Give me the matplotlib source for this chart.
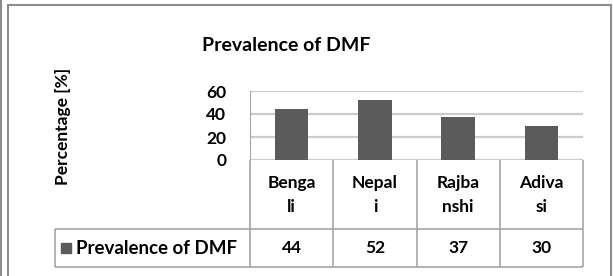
import matplotlib.pyplot as plt
from matplotlib.patches import Rectangle
from matplotlib.lines import Line2D

plt.rcParams['font.family'] = ['Lato', 'DejaVu Sans']

categories = ['Bengali', 'Nepali', 'Rajbanshi', 'Adivasi']
header_labels = ['Benga\nli', 'Nepal\ni', 'Rajba\nnshi', 'Adiva\nsi']
values = [44, 52, 37, 30]
series_name = 'Prevalence of DMF'
title = 'Prevalence of DMF'
ylabel = 'Percentage [%]'
yticks = [0, 20, 40, 60]

W, H = 613, 276
bar_color = '#5b5b5b'
line_color = '#a6a6a6'


def box(x0, y0, x1, y1):
    # pixel box (top-left origin) -> figure fraction rect
    return [x0 / W, 1 - y1 / H, (x1 - x0) / W, (y1 - y0) / H]


fig = plt.figure(figsize=(W / 100, H / 100), dpi=100)

# outer frame
fig.add_artist(Rectangle((8 / W, -0.05), 603 / W, 1.05 - 5 / H, transform=fig.transFigure,
                         fill=False, edgecolor='#8c8c8c', linewidth=1.5))
fig.add_artist(Line2D([1 / W, 1 / W], [0, 1], transform=fig.transFigure,
                      color='#8c8c8c', linewidth=1.5))

# chart
ax = fig.add_axes(box(250, 91, 583, 160))
x = list(range(len(categories)))
ax.bar(x, values, width=0.4, color=bar_color, zorder=3)
ax.set_xlim(-0.5, len(categories) - 0.5)
ax.set_ylim(0, 60)
ax.set_yticks(yticks)
ax.set_xticks([])
ax.grid(axis='y', color='#cccccc', linewidth=1.6, zorder=0)
for s in ['top', 'right', 'bottom']:
    ax.spines[s].set_visible(False)
ax.spines['left'].set_color(line_color)
ax.tick_params(axis='y', length=0, labelsize=12.5, pad=17)
for lab in ax.get_yticklabels():
    lab.set_fontweight('bold')

fig.text(286 / W, 1 - 45 / H, title, ha='center', va='center',
         fontsize=14, fontweight='bold')
fig.text(63 / W, 1 - 126 / H, ylabel, ha='center', va='center',
         rotation=90, fontsize=12.5, fontweight='bold')

# data table under the chart
tax = fig.add_axes(box(250, 160, 583, 267))
tax.set_xlim(-0.5, len(categories) - 0.5)
tax.set_ylim(267, 160)
tax.axis('off')
left = -0.5 - (250 - 55) / (333 / len(categories))
edges = [i - 0.5 for i in range(len(categories) + 1)]
tax.vlines(edges, 160, 267, color=line_color, linewidth=1.2, clip_on=False)
tax.vlines([left], 229, 267, color=line_color, linewidth=1.2, clip_on=False)
tax.hlines([229, 267], left, edges[-1], color=line_color, linewidth=1.2, clip_on=False)

for i, (lab, v) in enumerate(zip(header_labels, values)):
    tax.text(i, 195, lab, ha='center', va='center', fontsize=12.5,
             fontweight='bold', linespacing=1.55)
    tax.text(i, 248, str(v), ha='center', va='center', fontsize=12.5, fontweight='bold')

tax.plot([left + 0.13], [248], marker='s', markersize=7, color=bar_color, clip_on=False)
tax.text(left + 0.25, 248, series_name, ha='left', va='center', fontsize=13.5,
         fontweight='bold')

fig.savefig('out.png', dpi=100)
